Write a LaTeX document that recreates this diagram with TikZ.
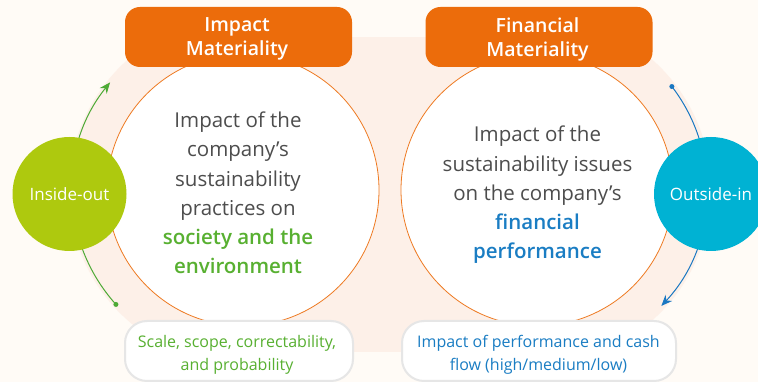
\documentclass[tikz,border=0pt]{standalone}
\usepackage{fontspec}
\setmainfont{Open Sans}
\newfontfamily\semib{Open Sans Semibold}
\usetikzlibrary{arrows.meta}
\definecolor{bgc}{HTML}{FFFBF6}
\definecolor{peach}{HTML}{FDF0E8}
\definecolor{orangebox}{HTML}{EC6C0B}
\definecolor{orangeline}{HTML}{EE7A22}
\definecolor{txtgray}{HTML}{4D4D4D}
\definecolor{txtgreen}{HTML}{58B031}
\definecolor{txtblue}{HTML}{1A7DC3}
\definecolor{limec}{HTML}{AEC90E}
\definecolor{cyanc}{HTML}{00B2D3}
\definecolor{arrgreen}{HTML}{4DAA36}
\definecolor{arrblue}{HTML}{1A78C2}
\definecolor{boxline}{HTML}{E6E6E6}
\tikzset{
  bigcircle/.style={circle, draw=orangeline, line width=0.8pt, fill=white, minimum size=272pt, inner sep=0pt},
  headbox/.style={rectangle, rounded corners=15pt, fill=orangebox, minimum width=227pt, minimum height=60pt, inner sep=0pt},
  headtext/.style={align=center, inner sep=0pt, text=white, font=\semib\fontsize{19.5}{24}\selectfont},
  footbox/.style={rectangle, rounded corners=22pt, fill=white, draw=boxline, line width=2pt, minimum height=60pt, inner sep=0pt},
  foottext/.style={align=center, inner sep=0pt, font=\fontsize{16}{23}\selectfont},
  sidecircle/.style={circle, minimum size=114pt, inner sep=0pt, text=white, font=\fontsize{17}{20}\selectfont},
  maintext/.style={align=center, inner sep=0pt, text=txtgray, font=\fontsize{20.5}{29.3}\selectfont},
  arcarrow/.style={line width=1pt, -{Stealth[length=11pt,width=9pt]}},
  dotc/.style={circle, inner sep=0pt, minimum size=5pt}
}
\begin{document}
\begin{tikzpicture}[x=1pt,y=1pt]
\useasboundingbox (0,0) rectangle (758,382);
\clip (0,0) rectangle (758,382);
\fill[bgc] (0,0) rectangle (758,382);
% peach band
\fill[peach] (243,30) rectangle (537,345);
\fill[peach] (243,192) circle[radius=174];
\fill[peach] (537,192) circle[radius=174];
% arrows
\draw[arrgreen, arcarrow] (243,192) ++(222:171) coordinate (gs) arc[start angle=222, end angle=141, radius=171] coordinate (ge);
\node[dotc, fill=arrgreen] (gdot) at (gs) {};
\draw[arrblue, arcarrow] (537,192) ++(37.5:170) coordinate (bs) arc[start angle=37.5, end angle=-43, radius=170] coordinate (be);
\node[dotc, fill=arrblue] (bdot) at (bs) {};
% big circles
\node[bigcircle] (lc) at (243,192) {};
\node[bigcircle] (rc) at (537,192) {};
% header boxes
\node[headbox] (lh) at (238.5,345) {};
\node[headtext] (lht) at ([xshift=-1.5pt,yshift=-2pt]lh.center) {Impact\\Materiality};
\node[headbox] (rh) at (539,345) {};
\node[headtext] (rht) at ([xshift=-1.5pt,yshift=-2pt]rh.center) {Financial\\Materiality};
% main texts
\node[maintext] (lt) at (238,189) {Impact of the\\company’s\\sustainability\\practices on\\{\color{txtgreen}\semib society and the}\\{\color{txtgreen}\semib environment}};
\node[maintext] (rt) at (537.5,187) {Impact of the\\sustainability issues\\on the company’s\\{\color{txtblue}\semib financial}\\{\color{txtblue}\semib performance}};
% side circles
\node[sidecircle, fill=limec] (io) at (69.5,188) {Inside-out};
\node[sidecircle, fill=cyanc] (oi) at (711,188) {Outside-in};
% footer boxes
\node[footbox, minimum width=228pt] (lf) at (239,31) {};
\node[foottext, text=txtgreen] (lft) at ([xshift=-2pt,yshift=-3.5pt]lf.center) {Scale, scope, correctability,\\and probability};
\node[footbox, minimum width=274pt] (rf) at (539,31) {};
\node[foottext, text=txtblue] (rft) at ([xshift=-0.5pt,yshift=-3.5pt]rf.center) {Impact of performance and cash\\flow (high/medium/low)};
\end{tikzpicture}
\end{document}
